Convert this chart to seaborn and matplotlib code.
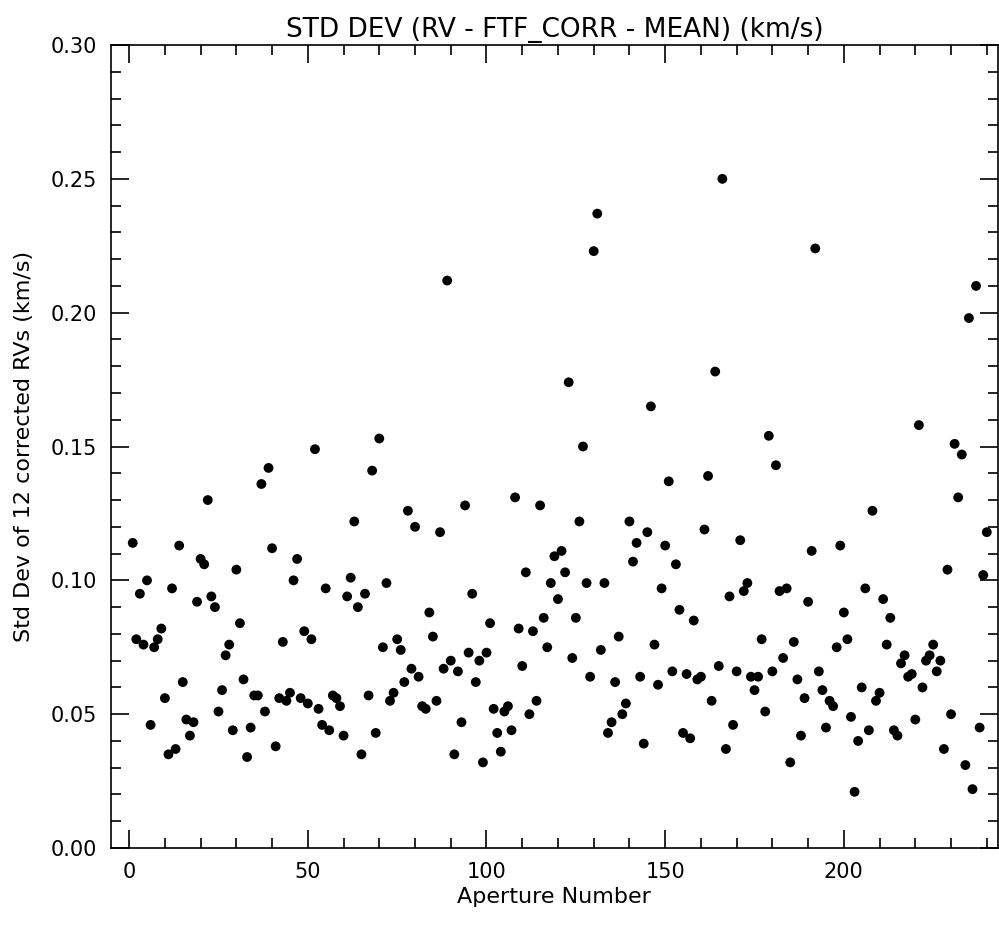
import numpy as np
import pandas as pd
import seaborn as sns
import matplotlib.pyplot as plt
from matplotlib.ticker import MultipleLocator

# Std dev of the 12 corrected RVs for each aperture (km/s)
std_dev = [
    0.114, 0.078, 0.095, 0.076, 0.100, 0.046, 0.075, 0.078, 0.082, 0.056,
    0.035, 0.097, 0.037, 0.113, 0.062, 0.048, 0.042, 0.047, 0.092, 0.108,
    0.106, 0.130, 0.094, 0.090, 0.051, 0.059, 0.072, 0.076, 0.044, 0.104,
    0.084, 0.063, 0.034, 0.045, 0.057, 0.057, 0.136, 0.051, 0.142, 0.112,
    0.038, 0.056, 0.077, 0.055, 0.058, 0.100, 0.108, 0.056, 0.081, 0.054,
    0.078, 0.149, 0.052, 0.046, 0.097, 0.044, 0.057, 0.056, 0.053, 0.042,
    0.094, 0.101, 0.122, 0.090, 0.035, 0.095, 0.057, 0.141, 0.043, 0.153,
    0.075, 0.099, 0.055, 0.058, 0.078, 0.074, 0.062, 0.126, 0.067, 0.120,
    0.064, 0.053, 0.052, 0.088, 0.079, 0.055, 0.118, 0.067, 0.212, 0.070,
    0.035, 0.066, 0.047, 0.128, 0.073, 0.095, 0.062, 0.070, 0.032, 0.073,
    0.084, 0.052, 0.043, 0.036, 0.051, 0.053, 0.044, 0.131, 0.082, 0.068,
    0.103, 0.050, 0.081, 0.055, 0.128, 0.086, 0.075, 0.099, 0.109, 0.093,
    0.111, 0.103, 0.174, 0.071, 0.086, 0.122, 0.150, 0.099, 0.064, 0.223,
    0.237, 0.074, 0.099, 0.043, 0.047, 0.062, 0.079, 0.050, 0.054, 0.122,
    0.107, 0.114, 0.064, 0.039, 0.118, 0.165, 0.076, 0.061, 0.097, 0.113,
    0.137, 0.066, 0.106, 0.089, 0.043, 0.065, 0.041, 0.085, 0.063, 0.064,
    0.119, 0.139, 0.055, 0.178, 0.068, 0.250, 0.037, 0.094, 0.046, 0.066,
    0.115, 0.096, 0.099, 0.064, 0.059, 0.064, 0.078, 0.051, 0.154, 0.066,
    0.143, 0.096, 0.071, 0.097, 0.032, 0.077, 0.063, 0.042, 0.056, 0.092,
    0.111, 0.224, 0.066, 0.059, 0.045, 0.055, 0.053, 0.075, 0.113, 0.088,
    0.078, 0.049, 0.021, 0.040, 0.060, 0.097, 0.044, 0.126, 0.055, 0.058,
    0.093, 0.076, 0.086, 0.044, 0.042, 0.069, 0.072, 0.064, 0.065, 0.048,
    0.158, 0.060, 0.070, 0.072, 0.076, 0.066, 0.070, 0.037, 0.104, 0.050,
    0.151, 0.131, 0.147, 0.031, 0.198, 0.022, 0.210, 0.045, 0.102, 0.118,
]
aperture = np.arange(1, len(std_dev) + 1)

df = pd.DataFrame({'Aperture Number': aperture, 'Std Dev': std_dev})

sns.set_style('ticks')
plt.rcParams['font.family'] = ['DejaVu Sans']
plt.rcParams['text.color'] = 'black'
plt.rcParams['axes.labelcolor'] = 'black'
plt.rcParams['xtick.color'] = 'black'
plt.rcParams['ytick.color'] = 'black'

fig = plt.figure(figsize=(9.99, 9.26), dpi=100)
ax = fig.add_axes([0.1114, 0.0842, 0.8871, 0.8672])

sns.scatterplot(data=df, x='Aperture Number', y='Std Dev', ax=ax,
                color='black', s=50, edgecolor='none', marker='o')

ax.set_xlim(-5, 243)
ax.set_ylim(0, 0.30)
ax.xaxis.set_major_locator(MultipleLocator(50))
ax.xaxis.set_minor_locator(MultipleLocator(10))
ax.yaxis.set_major_locator(MultipleLocator(0.05))
ax.yaxis.set_minor_locator(MultipleLocator(0.01))
ax.yaxis.set_major_formatter(plt.FormatStrFormatter('%.2f'))

ax.tick_params(which='both', direction='in', top=True, right=True,
               labelsize=15, width=1.2, color='black', pad=10)
ax.tick_params(which='major', length=13)
ax.tick_params(which='minor', length=7)
for sp in ax.spines.values():
    sp.set_linewidth(1.2)
    sp.set_color('black')

ax.set_xlabel('Aperture Number', fontsize=16, labelpad=4)
ax.set_ylabel('Std Dev of 12 corrected RVs (km/s)', fontsize=16, labelpad=12)
ax.set_title('STD DEV (RV - FTF_CORR - MEAN) (km/s)', fontsize=19, pad=6)

plt.savefig('out.png', dpi=100)
